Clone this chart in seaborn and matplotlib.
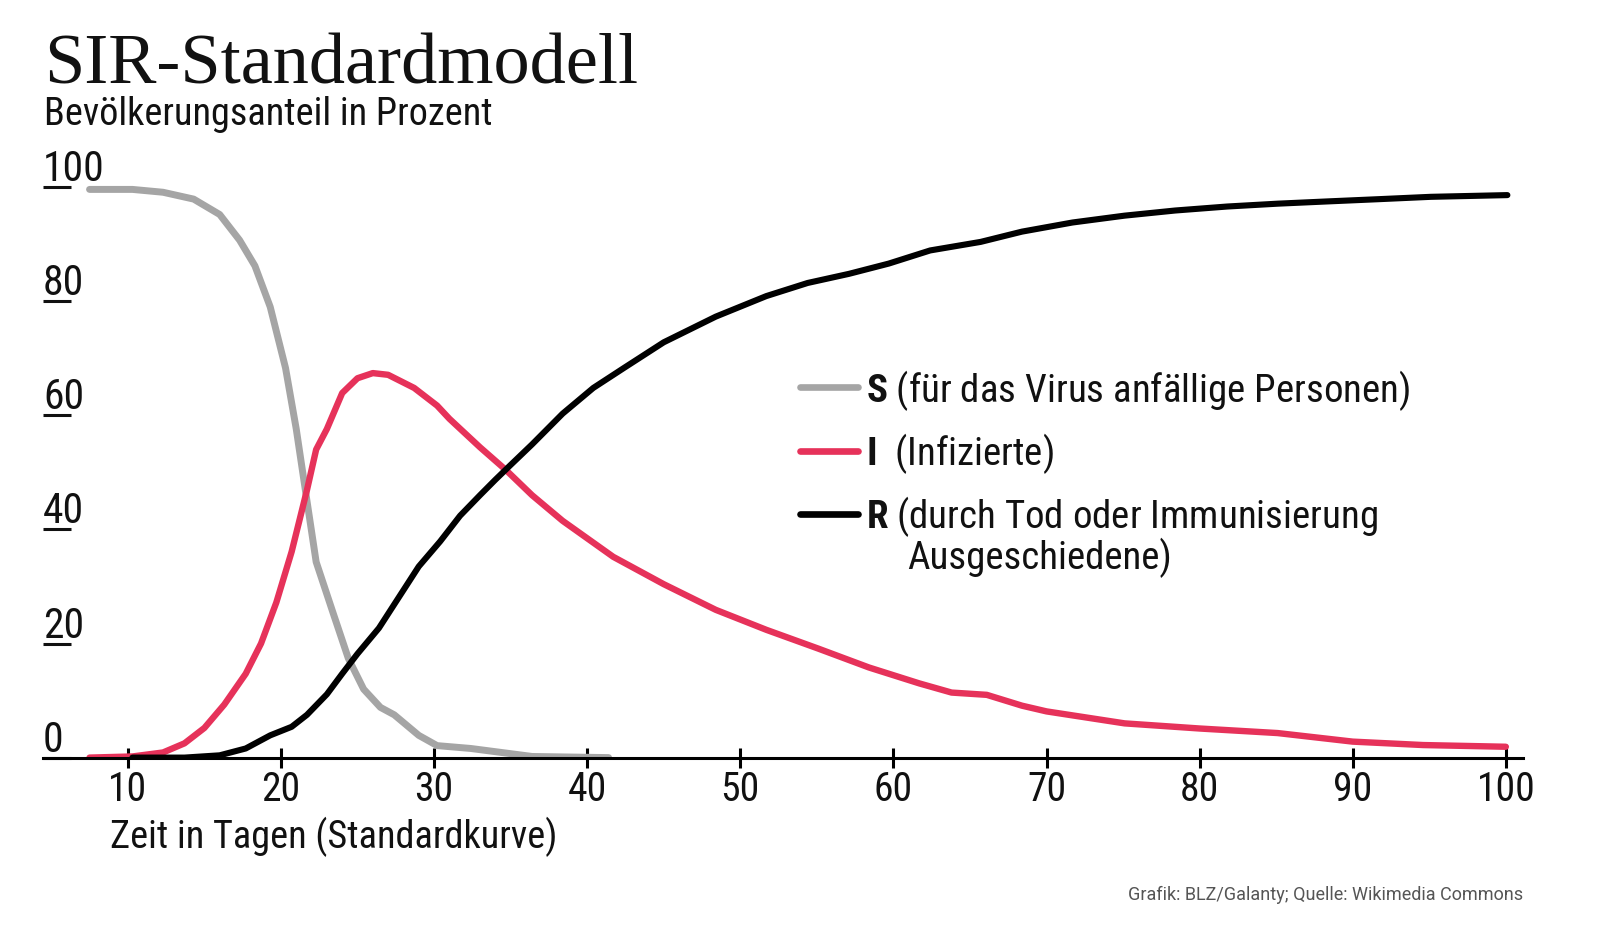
import matplotlib.pyplot as plt
import seaborn as sns

# values (day, percent)
s_days = [7.5, 10.3, 12.3, 14.3, 16.0, 17.3, 18.3, 19.3, 20.3, 21.0, 21.7, 22.3, 23.4, 24.4,
          25.4, 26.5, 27.4, 29.0, 30.2, 32.4, 36.4, 41.4]
s_vals = [99.6, 99.6, 99.1, 97.9, 95.2, 90.7, 86.2, 79.0, 68.3, 57.6, 45.0, 34.3, 25.4, 17.4,
          12.0, 8.8, 7.5, 3.9, 2.1, 1.6, 0.2, 0.0]

i_days = [7.5, 10.3, 12.3, 13.7, 15.0, 16.3, 17.7, 18.7, 19.7, 20.7, 21.7, 22.3, 23.0, 24.0,
          25.0, 26.0, 27.0, 28.7, 30.2, 31.0, 33.0, 34.7, 36.4, 38.4, 41.7, 45.0, 48.4, 51.7,
          55.1, 58.4, 61.7, 63.8, 66.1, 68.4, 70.0, 75.1, 80.0, 85.1, 90.0, 94.6, 100.0]
i_vals = [0.0, 0.2, 0.9, 2.5, 5.2, 9.3, 14.7, 20.0, 27.2, 36.1, 46.9, 54.0, 57.6, 63.9,
          66.5, 67.4, 67.1, 64.8, 61.7, 59.4, 54.4, 50.4, 46.0, 41.5, 35.2, 30.4, 25.9, 22.4,
          19.1, 15.8, 13.0, 11.4, 11.0, 9.1, 8.1, 6.0, 5.1, 4.3, 2.8, 2.2, 1.9]

r_days = [10.3, 13.7, 16.0, 17.7, 19.3, 20.7, 21.7, 23.0, 24.0, 25.0, 26.4, 27.7, 29.0, 30.4,
          31.7, 33.0, 34.0, 35.0, 36.4, 38.4, 40.4, 42.4, 45.0, 48.4, 51.7, 54.4, 57.1, 59.7,
          62.4, 65.7, 68.4, 71.7, 75.1, 78.4, 81.8, 85.1, 88.4, 91.8, 95.1, 100.1]
r_vals = [0.0, 0.0, 0.4, 1.6, 3.9, 5.4, 7.5, 11.1, 14.7, 18.2, 22.7, 28.1, 33.5, 37.9,
          42.4, 46.0, 48.7, 51.3, 54.9, 60.3, 64.8, 68.3, 72.8, 77.3, 80.9, 83.2, 84.8, 86.6,
          88.9, 90.4, 92.2, 93.8, 95.0, 95.9, 96.6, 97.1, 97.5, 97.9, 98.3, 98.6]

x_ticks = [10, 20, 30, 40, 50, 60, 70, 80, 90, 100]
y_ticks = [0, 20, 40, 60, 80, 100]

labels = [r"$\mathbf{S}$ (für das Virus anfällige Personen)",
          r"$\mathbf{I}$  (Infizierte)",
          r"$\mathbf{R}$ (durch Tod oder Immunisierung"]

sns.set_theme(style="white")
plt.rcParams['font.family'] = ['Roboto Condensed', 'DejaVu Sans']
plt.rcParams['mathtext.fontset'] = 'custom'
plt.rcParams['mathtext.bf'] = 'Roboto Condensed:bold'
plt.rcParams['mathtext.rm'] = 'Roboto Condensed'

W, H = 1603, 928
fig = plt.figure(figsize=(W / 100, H / 100), dpi=100)
ax = fig.add_axes([43 / W, 1 - 758.6 / H, 1480 / W, 599 / H])

series = [(s_days, s_vals, "#a5a5a5", 5.0),
          (i_days, i_vals, "#e6325a", 4.6),
          (r_days, r_vals, "#000000", 4.4)]
for (d, v, c, lw), lab in zip(series, labels):
    sns.lineplot(x=d, y=v, ax=ax, color=c, linewidth=lw, label=lab,
                 solid_capstyle='round', solid_joinstyle='round')

ax.set_xlim(4.46, 101.12)
ax.set_ylim(0, 105)
for side in ["top", "right", "left"]:
    ax.spines[side].set_visible(False)
ax.spines["bottom"].set_linewidth(2.2)
ax.spines["bottom"].set_color("black")

ax.set_xticks(x_ticks)
ax.set_xticklabels([str(t) for t in x_ticks])
ax.tick_params(axis='x', bottom=True, direction='inout', length=15, width=2.2, color='black',
               labelsize=28.5, pad=1, labelcolor='#111111')
ax.set_yticks(y_ticks)
ax.tick_params(axis='y', left=True, direction='in', length=20, width=2.2, color='#111111',
               labelleft=False)
for t in y_ticks:
    ax.annotate(str(t), xy=(0, t), xycoords=('axes fraction', 'data'), xytext=(0, 5),
                textcoords='offset points', ha='left', va='baseline', fontsize=30, color='#111111')

leg = ax.legend(loc='upper left', bbox_to_anchor=(800 / W, 1 - 368 / H),
                bbox_transform=fig.transFigure, frameon=False, fontsize=28,
                handlelength=1.5, handletextpad=0.2, labelspacing=0.47, borderpad=0,
                borderaxespad=0)
for line in leg.get_lines():
    line.set_linewidth(4.8)
for txt in leg.get_texts():
    txt.set_color('#111111')
fig.text(907 / W, 1 - 569 / H, "Ausgeschiedene)", fontsize=28, color='#111111', va='baseline')

fig.text(44 / W, 1 - 84 / H, "SIR-Standardmodell", family='Liberation Serif', fontsize=52,
         color='#111111', va='baseline')
fig.text(44 / W, 1 - 125 / H, "Bevölkerungsanteil in Prozent", fontsize=27.5,
         color='#111111', va='baseline')
fig.text(110 / W, 1 - 848 / H, "Zeit in Tagen (Standardkurve)", fontsize=27.5,
         color='#111111', va='baseline')
fig.text(1523 / W, 1 - 900 / H, "Grafik: BLZ/Galanty; Quelle: Wikimedia Commons",
         family='Roboto', fontsize=13, color='#555555', ha='right', va='baseline')

fig.savefig("out.png", dpi=100, facecolor='white')
